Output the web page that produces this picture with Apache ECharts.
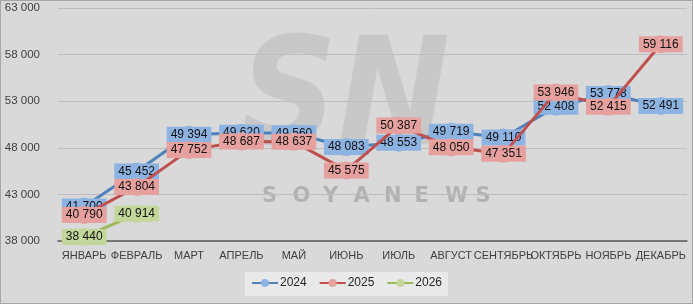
<!DOCTYPE html>
<html><head><meta charset="utf-8">
<script src="https://cdn.jsdelivr.net/npm/echarts@6/dist/echarts.min.js"></script>
<style>html,body{margin:0;padding:0;background:#d9d9d9}#w{width:691px;height:302px;border:1px solid #a6a6a6}#c{width:691px;height:302px}</style>
</head><body><div id="w"><div id="c"></div></div>
<script>
var categories = ['ЯНВАРЬ','ФЕВРАЛЬ','МАРТ','АПРЕЛЬ','МАЙ','ИЮНЬ','ИЮЛЬ','АВГУСТ','СЕНТЯБРЬ','ОКТЯБРЬ','НОЯБРЬ','ДЕКАБРЬ'];
var s2024 = [41700, 45452, 49394, 49620, 49560, 48083, 48553, 49719, 49110, 52408, 53778, 52491];
var s2025 = [40790, 43804, 47752, 48687, 48637, 45575, 50387, 48050, 47351, 53946, 52415, 59116];
var s2026 = [38440, 40914];
var yTicks = [38000, 43000, 48000, 53000, 58000, 63000];

var chart = echarts.init(document.getElementById('c'));
function fmt(v){ return String(v).replace(/\B(?=(\d{3})+(?!\d))/g,' '); }
var FONT = '"Liberation Sans", Arial, sans-serif';
function mk(name, data, line, light, z){
  return {
    name: name, type: 'line', data: data, z: z,
    symbol: 'circle', symbolSize: 18,
    lineStyle: {color: line, width: 3},
    itemStyle: {color: light, borderColor: light, borderWidth: 0},
    label: {show: true, position: 'inside', formatter: function(p){return fmt(p.value);},
      backgroundColor: light, color: '#111', fontSize: 12, fontFamily: FONT,
      padding: [2, 4, 1, 4], lineHeight: 13},
    emphasis: {disabled: true}
  };
}
var letters = 'SOYANEWS'.split('');
var graphics = [{type:'text', left: 239, top: 29, z: 0, silent: true,
  style:{text:'SN', font:'italic bold 150px "DejaVu Sans Condensed", "DejaVu Sans", sans-serif', fill:'rgba(140,140,140,0.22)'}}];
letters.forEach(function(ch,i){
  graphics.push({type:'text', left: 261 + i*30.5, top: 185, z: 0, silent: true,
    style:{text: ch, font:'bold 21px "DejaVu Sans", sans-serif', fill:'rgba(120,120,120,0.4)'}});
});
graphics.push({type:'rect', left:244, top:271, z:-1, silent:true, shape:{width:203, height:24},
  style:{fill:'#e9e9e9'}});

chart.setOption({
  backgroundColor: '#d9d9d9',
  animation: false,
  graphic: graphics,
  grid: {left: 57, right: 5, top: 7, bottom: 62, show: false, borderWidth: 0},
  legend: {data: ['2024','2025','2026'], bottom: 9, left: 'center', itemWidth: 26, itemHeight: 10, itemGap: 12,
    textStyle: {fontSize: 12, color: '#262626', fontFamily: FONT, padding: [0,0,0,-3]}},
  xAxis: {type: 'category', data: categories, boundaryGap: true,
    axisLine: {lineStyle: {color: '#595959', width: 1.5}},
    axisTick: {show: false}, splitLine: {show: false}, splitArea: {show: false},
    axisLabel: {fontSize: 11, color: '#404040', fontFamily: FONT, margin: 9, interval: 0}},
  yAxis: {type: 'value', min: yTicks[0], max: yTicks[yTicks.length-1], interval: 5000,
    axisLine: {show: false, lineStyle: {width: 0, color: 'rgba(0,0,0,0)'}}, axisTick: {show: false},
    splitArea: {show: false},
    splitLine: {lineStyle: {color: '#bdbdbd', width: 1}},
    axisLabel: {fontSize: 11.5, color: '#404040', fontFamily: FONT, margin: 18, formatter: function(v){return fmt(v);}}},
  series: [
    mk('2024', s2024, '#4f81bd', '#8db3e2', 3),
    mk('2025', s2025, '#c0504d', '#e6a09e', 4),
    mk('2026', s2026, '#9bbb59', '#c4d79b', 5)
  ]
});
</script></body></html>
